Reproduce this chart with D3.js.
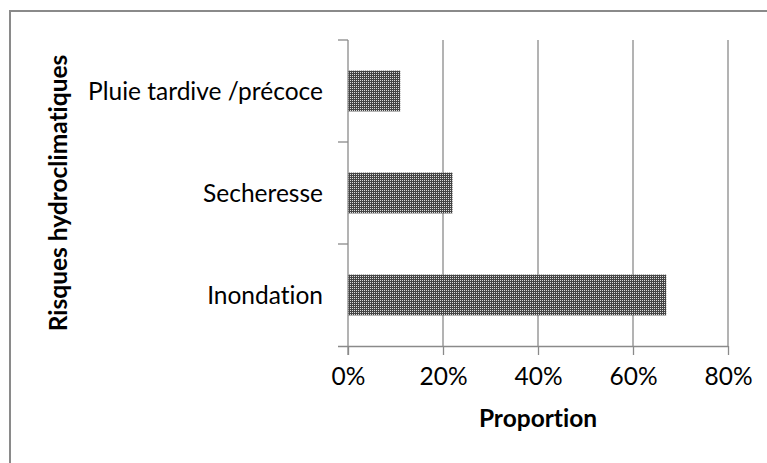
<!DOCTYPE html>
<html>
<head>
<meta charset="utf-8">
<script src="https://cdn.jsdelivr.net/npm/d3@7"></script>
<style>
  html, body { margin: 0; padding: 0; background: #fff; }
  svg { display: block; }
  text { font-family: Lato, "Noto Sans", sans-serif; fill: #000; font-variant-ligatures: none; font-feature-settings: "liga" 0; }
</style>
</head>
<body>
<script>
// Hydroclimatic risks and their share among respondents
const categories = ["Inondation", "Secheresse", "Pluie tardive /précoce"];
const proportions = [0.67, 0.22, 0.11];
const xTicks = [0, 0.2, 0.4, 0.6, 0.8];
const xTickLabels = ["0%", "20%", "40%", "60%", "80%"];
const xTitle = "Proportion";
const yTitle = "Risques hydroclimatiques";

const W = 767, H = 463;
const plot = { left: 348, right: 728, top: 40, bottom: 346 };
const axisColor = "#8a8a8a";
const fontSize = 24.5;

const svg = d3.select("body").append("svg")
  .attr("width", W).attr("height", H);

// Dotted fill used for the bars
const defs = svg.append("defs");
const pat = defs.append("pattern")
  .attr("id", "dots")
  .attr("patternUnits", "userSpaceOnUse")
  .attr("width", 2).attr("height", 2);
pat.append("rect").attr("width", 2).attr("height", 2).attr("fill", "#444444");
pat.append("rect").attr("x", 0).attr("y", 0).attr("width", 1).attr("height", 1).attr("fill", "#dcdcdc");

// Chart area frame
svg.append("rect")
  .attr("x", 10).attr("y", 11)
  .attr("width", 800).attr("height", 500)
  .attr("fill", "#fff")
  .attr("stroke", axisColor).attr("stroke-width", 2);

const x = d3.scaleLinear().domain([0, 0.8]).range([plot.left, plot.right]);
// Categories listed bottom-to-top
const y = d3.scaleBand().domain(categories.slice().reverse())
  .range([plot.top, plot.bottom]).paddingInner(0.6).paddingOuter(0.3);
const yEdges = d3.scaleBand().domain(categories.slice().reverse())
  .range([plot.top, plot.bottom]);

// Vertical gridlines
svg.append("g").selectAll("line")
  .data(xTicks.filter(d => d > 0))
  .join("line")
  .attr("x1", d => x(d)).attr("x2", d => x(d))
  .attr("y1", plot.top).attr("y2", plot.bottom)
  .attr("stroke", axisColor).attr("stroke-width", 1.3);

// Bars
svg.append("g").selectAll("rect")
  .data(categories)
  .join("rect")
  .attr("x", x(0))
  .attr("y", d => y(d))
  .attr("width", (d, i) => x(proportions[i]) - x(0))
  .attr("height", y.bandwidth())
  .attr("fill", "url(#dots)");

// X axis
const xAxis = d3.axisBottom(x)
  .tickValues(xTicks)
  .tickFormat((d, i) => xTickLabels[i])
  .tickSize(9).tickPadding(13)
  .tickSizeOuter(0);
const gx = svg.append("g")
  .attr("transform", `translate(0,${plot.bottom})`)
  .call(xAxis);
gx.select(".domain").attr("stroke", axisColor).attr("stroke-width", 1.3)
  .attr("d", `M${plot.left - 10},0.5H${plot.right}`);
gx.selectAll(".tick line").attr("stroke", axisColor).attr("stroke-width", 1.3);
gx.selectAll(".tick text")
  .attr("font-family", "Lato, sans-serif")
  .attr("font-size", fontSize).attr("fill", "#000");

// Y axis: ticks sit on category boundaries
const gy = svg.append("g");
gy.append("line")
  .attr("x1", plot.left).attr("x2", plot.left)
  .attr("y1", plot.top).attr("y2", plot.bottom + 9)
  .attr("stroke", axisColor).attr("stroke-width", 1.3);
const edges = yEdges.domain().map(d => yEdges(d));
gy.selectAll("line.edge")
  .data(edges)
  .join("line").attr("class", "edge")
  .attr("x1", plot.left - 10).attr("x2", plot.left)
  .attr("y1", d => d).attr("y2", d => d)
  .attr("stroke", axisColor).attr("stroke-width", 1.3);
gy.selectAll("text")
  .data(categories)
  .join("text")
  .attr("x", plot.left - 25)
  .attr("y", d => y(d) + y.bandwidth() / 2)
  .attr("dy", "0.35em")
  .attr("text-anchor", "end")
  .attr("font-size", fontSize)
  .text(d => d);

// Axis titles
svg.append("text")
  .attr("x", (plot.left + plot.right) / 2)
  .attr("y", 427)
  .attr("text-anchor", "middle")
  .attr("font-size", fontSize).attr("font-weight", "bold")
  .text(xTitle);

svg.append("text")
  .attr("transform", `translate(67,${(plot.top + plot.bottom) / 2}) rotate(-90)`)
  .attr("text-anchor", "middle")
  .attr("font-size", fontSize).attr("font-weight", "bold")
  .text(yTitle);
</script>
</body>
</html>
